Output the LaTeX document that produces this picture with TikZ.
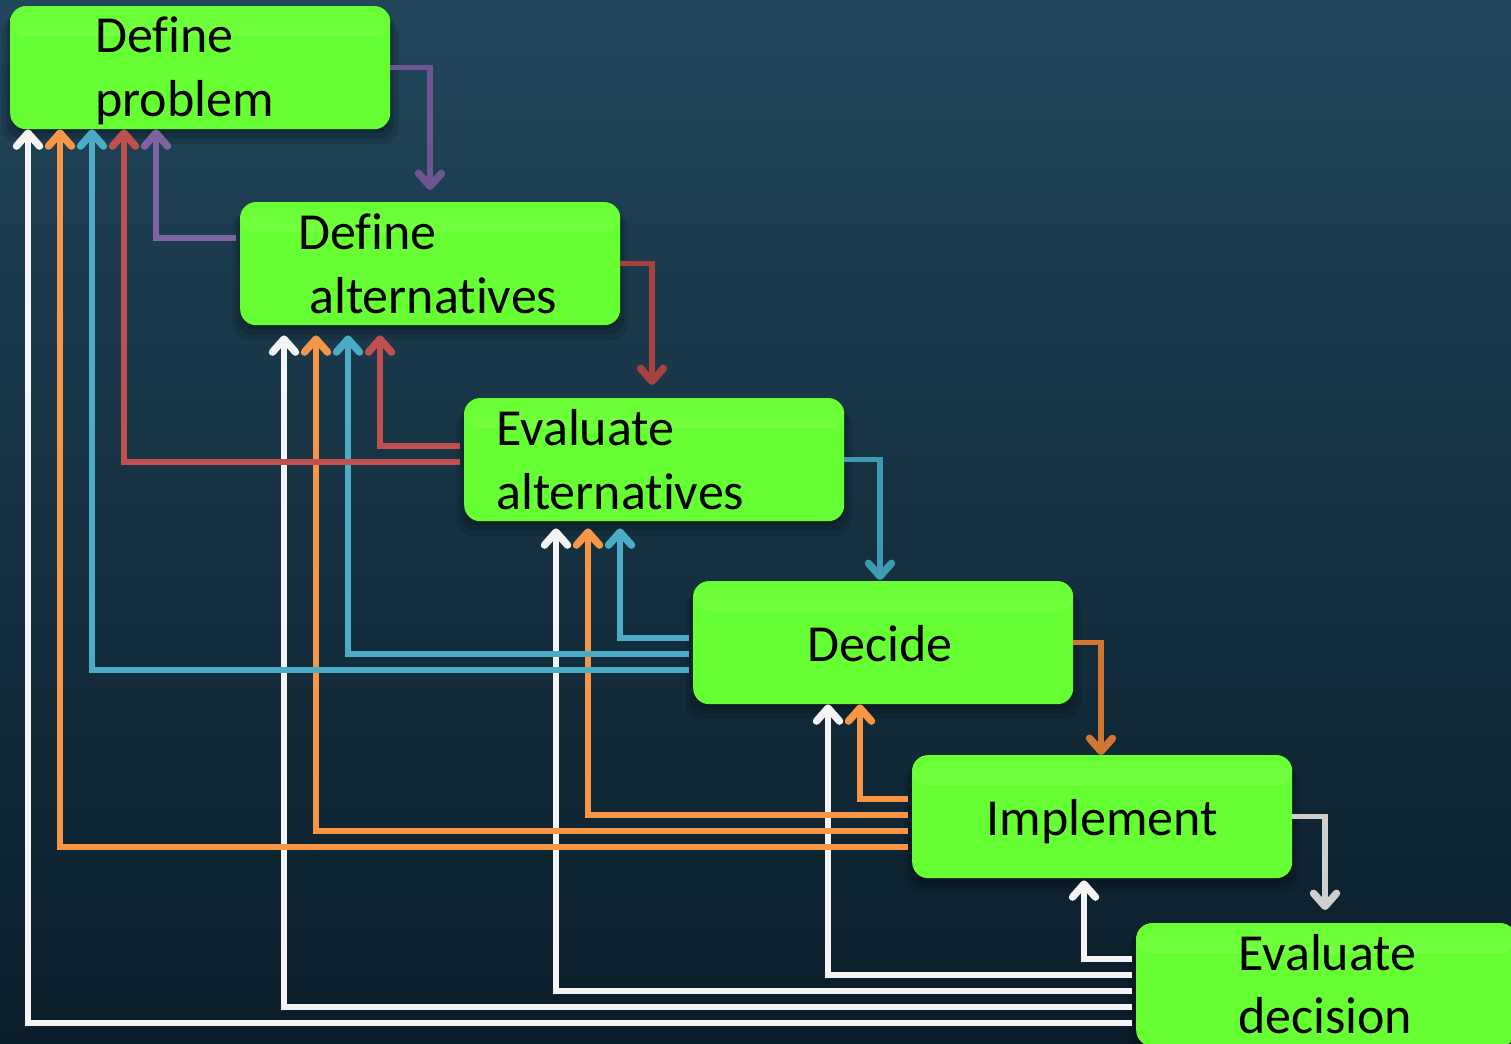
\documentclass[tikz,border=0pt]{standalone}
\usepackage{fontspec}
\setmainfont{Carlito}[Ligatures={NoCommon}]
\usetikzlibrary{arrows.meta,shadows}

% background and box colours
\definecolor{bgtop}{HTML}{21465A}
\definecolor{bgbot}{HTML}{0B1D29}
\definecolor{gA}{HTML}{66FF33}
\definecolor{gB}{HTML}{A2FF6C}
% feedback connector colours
\definecolor{cPurple}{HTML}{8064A2}
\definecolor{cRed}{HTML}{C0504D}
\definecolor{cBlue}{HTML}{4BACC6}
\definecolor{cOrange}{HTML}{F79646}
\definecolor{cWhite}{HTML}{F4F4F4}
% forward connector colours (a shade darker)
\definecolor{dPurple}{HTML}{6F5590}
\definecolor{dRed}{HTML}{A8403D}
\definecolor{dBlue}{HTML}{3C9AB3}
\definecolor{dOrange}{HTML}{D07733}
\definecolor{dWhite}{HTML}{CFCFCF}

\begin{document}
\begin{tikzpicture}[x=1pt,y=-1pt,
  stepbox/.style={rounded corners=16pt, minimum width=380pt, minimum height=123pt,
    inner sep=0pt, anchor=north west, fill=gA,
    % a soft light band along the top edge (y axis points down here)
    path picture={\shade[top color=gA, bottom color=gB]
      (path picture bounding box.north west) rectangle
      ([yshift=-30pt]path picture bounding box.north east);},
    general shadow={fill=black, opacity=0.10, shadow yshift=-12pt, shadow scale=1.04},
    general shadow={fill=black, opacity=0.12, shadow yshift=-8pt, shadow scale=1.02},
    general shadow={fill=black, opacity=0.14, shadow yshift=-4pt}},
  txt/.style={font=\fontsize{52}{64}\selectfont, anchor=base west, inner sep=0pt, text=black},
  link/.style={line width=5.5pt,
    -{Straight Barb[length=13pt,width=23pt,line width=0pt 1.35,round]}},
]
\useasboundingbox (0,0) rectangle (1511,1043);
\clip (0,0) rectangle (1511,1043);
\fill[top color=bgtop, bottom color=bgbot] (0,0) rectangle (1511,1043);

% the six steps
\node[stepbox] (b1) at (10,6) {};
\node[stepbox] (b2) at (240,202) {};
\node[stepbox] (b3) at (464,398) {};
\node[stepbox] (b4) at (693,581) {};
\node[stepbox] (b5) at (912,755) {};
\node[stepbox] (b6) at (1136,923) {};

% step labels
\node[txt] (t1a) at ([xshift=85pt,yshift=-47pt]b1.north west) {Define};
\node[txt] (t1b) at ([xshift=85pt,yshift=-111pt]b1.north west) {problem};
\node[txt] (t2a) at ([xshift=58pt,yshift=-47pt]b2.north west) {Define};
\node[txt] (t2b) at ([xshift=69pt,yshift=-111pt]b2.north west) {alternatives};
\node[txt] (t3a) at ([xshift=32pt,yshift=-47pt]b3.north west) {Evaluate};
\node[txt] (t3b) at ([xshift=32pt,yshift=-111pt]b3.north west) {alternatives};
\node[txt,anchor=base] (t4) at ([xshift=-3pt,yshift=-80pt]b4.north) {Decide};
\node[txt,anchor=base] (t5) at ([yshift=-80pt]b5.north) {Implement};
\node[txt] (t6a) at ([xshift=102pt,yshift=-47pt]b6.north west) {Evaluate};
\node[txt] (t6b) at ([xshift=102pt,yshift=-110pt]b6.north west) {decision};

% feedback from "Evaluate decision"
\draw[link, cWhite] ([xshift=-4pt,yshift=-36pt]b6.north west) -| ([xshift=172pt,yshift=-2pt]b5.south west);
\draw[link, cWhite] ([xshift=-4pt,yshift=-52pt]b6.north west) -| ([xshift=135pt]b4.south west);
\draw[link, cWhite] ([xshift=-4pt,yshift=-68pt]b6.north west) -| ([xshift=92pt,yshift=-7pt]b3.south west);
\draw[link, cWhite] ([xshift=-4pt,yshift=-84pt]b6.north west) -| ([xshift=44pt,yshift=-10pt]b2.south west);
\draw[link, cWhite] ([xshift=-4pt,yshift=-100pt]b6.north west) -| ([xshift=18pt]b1.south west);

% feedback from "Implement"
\draw[link, cOrange] ([xshift=-4pt,yshift=-44pt]b5.north west) -| ([xshift=167pt]b4.south west);
\draw[link, cOrange] ([xshift=-4pt,yshift=-60pt]b5.north west) -| ([xshift=124pt,yshift=-7pt]b3.south west);
\draw[link, cOrange] ([xshift=-4pt,yshift=-76pt]b5.north west) -| ([xshift=76pt,yshift=-10pt]b2.south west);
\draw[link, cOrange] ([xshift=-4pt,yshift=-92pt]b5.north west) -| ([xshift=50pt]b1.south west);

% feedback from "Decide"
\draw[link, cBlue] ([xshift=-4pt,yshift=-57pt]b4.north west) -| ([xshift=156pt,yshift=-7pt]b3.south west);
\draw[link, cBlue] ([xshift=-4pt,yshift=-73pt]b4.north west) -| ([xshift=108pt,yshift=-10pt]b2.south west);
\draw[link, cBlue] ([xshift=-4pt,yshift=-89pt]b4.north west) -| ([xshift=82pt]b1.south west);

% feedback from "Evaluate alternatives"
\draw[link, cRed] ([xshift=-4pt,yshift=-48pt]b3.north west) -| ([xshift=140pt,yshift=-10pt]b2.south west);
\draw[link, cRed] ([xshift=-4pt,yshift=-64pt]b3.north west) -| ([xshift=114pt]b1.south west);

% feedback from "Define alternatives"
\draw[link, cPurple] ([xshift=-4pt,yshift=-36pt]b2.north west) -| ([xshift=146pt]b1.south west);

% forward steps
\draw[link, dPurple] (b1.east) -| ([xshift=190pt,yshift=12pt]b2.north west);
\draw[link, dRed] (b2.east) -| ([xshift=188pt,yshift=13pt]b3.north west);
\draw[link, dBlue] (b3.east) -| ([xshift=187pt,yshift=1pt]b4.north west);
\draw[link, dOrange] (b4.east) -| ([xshift=189pt]b5.north west);
\draw[link, dWhite] (b5.east) -| ([xshift=189pt,yshift=13pt]b6.north west);
\end{tikzpicture}
\end{document}
